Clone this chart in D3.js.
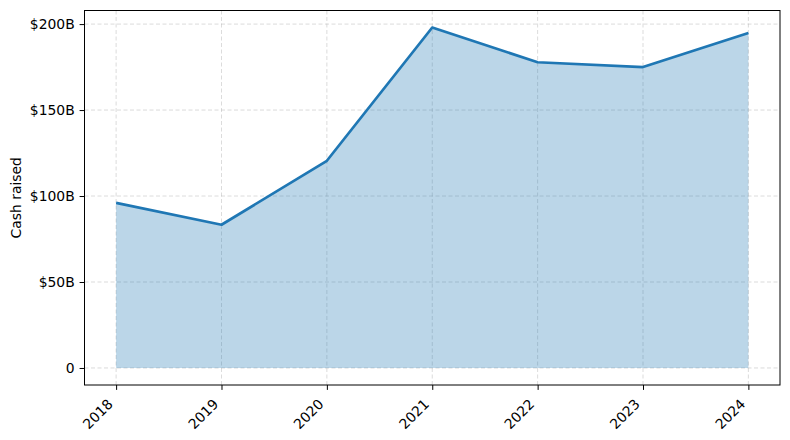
<!DOCTYPE html>
<html>
<head>
<meta charset="utf-8">
<script src="https://cdn.jsdelivr.net/npm/d3@7"></script>
<style>
  body { margin: 0; background: #fff; }
  svg { font-family: "DejaVu Sans", sans-serif; }
  .grid line { stroke: #b0b0b0; stroke-opacity: 0.5; stroke-width: 0.9; stroke-dasharray: 4 2.5; }
</style>
</head>
<body>
<div id="chart"></div>
<script>
// data (billions of USD)
const years = ['2018', '2019', '2020', '2021', '2022', '2023', '2024'];
const cashRaised = [96, 83.3, 120.5, 198, 177.8, 175, 194.8];
const yTicks = [0, 50, 100, 150, 200];

const width = 790, height = 440;
const margin = { top: 10.5, right: 10, bottom: 55, left: 84.5 };
const innerW = width - margin.left - margin.right;
const innerH = height - margin.top - margin.bottom;
const fontSize = 13.9;

const svg = d3.select('#chart').append('svg')
    .attr('width', width)
    .attr('height', height);

const g = svg.append('g')
    .attr('transform', `translate(${margin.left},${margin.top})`);

// matplotlib-like 5% margins
const xs = years.map(Number);
const xPad = (d3.max(xs) - d3.min(xs)) * 0.05;
const x = d3.scaleLinear()
    .domain([d3.min(xs) - xPad, d3.max(xs) + xPad])
    .range([0, innerW]);

const yMax = d3.max(cashRaised);
const y = d3.scaleLinear()
    .domain([-yMax * 0.05, yMax * 1.05])
    .range([innerH, 0]);

// grid
g.append('g').attr('class', 'grid')
    .selectAll('line').data(xs).join('line')
    .attr('x1', d => x(d)).attr('x2', d => x(d))
    .attr('y1', 0).attr('y2', innerH);
g.append('g').attr('class', 'grid')
    .selectAll('line').data(yTicks).join('line')
    .attr('x1', 0).attr('x2', innerW)
    .attr('y1', d => y(d)).attr('y2', d => y(d));

const pts = xs.map((yr, i) => ({ yr, v: cashRaised[i] }));

// area
g.append('path')
    .datum(pts)
    .attr('fill', '#1f77b4')
    .attr('fill-opacity', 0.3)
    .attr('d', d3.area().x(d => x(d.yr)).y0(y(0)).y1(d => y(d.v)));

// line
g.append('path')
    .datum(pts)
    .attr('fill', 'none')
    .attr('stroke', '#1f77b4')
    .attr('stroke-width', 2.7)
    .attr('stroke-linejoin', 'round')
    .attr('d', d3.line().x(d => x(d.yr)).y(d => y(d.v)));

// axes
const xAxis = g.append('g')
    .attr('transform', `translate(0,${innerH})`)
    .call(d3.axisBottom(x).tickValues(xs).tickFormat(d => String(d)).tickSizeOuter(0).tickSize(4.9));
xAxis.attr('font-family', '"DejaVu Sans", sans-serif').attr('font-size', fontSize);
xAxis.select('.domain').remove();
xAxis.selectAll('.tick text')
    .attr('fill', '#000')
    .attr('x', null).attr('y', null).attr('dy', '0.35em')
    .style('text-anchor', 'end')
    .attr('transform', 'translate(-6.2,16.5) rotate(-45)');

const yAxis = g.append('g')
    .call(d3.axisLeft(y).tickValues(yTicks)
        .tickFormat(d => d === 0 ? '0' : `$${d}B`).tickSize(4.9).tickPadding(4.9));
yAxis.attr('font-family', '"DejaVu Sans", sans-serif').attr('font-size', fontSize);
yAxis.select('.domain').remove();
yAxis.selectAll('text').attr('fill', '#000');

// frame
g.append('rect')
    .attr('width', innerW)
    .attr('height', innerH)
    .attr('fill', 'none')
    .attr('stroke', '#000')
    .attr('stroke-width', 1);

// y label
svg.append('text')
    .attr('transform', `translate(20.5,${margin.top + innerH / 2}) rotate(-90)`)
    .attr('text-anchor', 'middle')
    .attr('font-size', fontSize)
    .text('Cash raised');
</script>
</body>
</html>
